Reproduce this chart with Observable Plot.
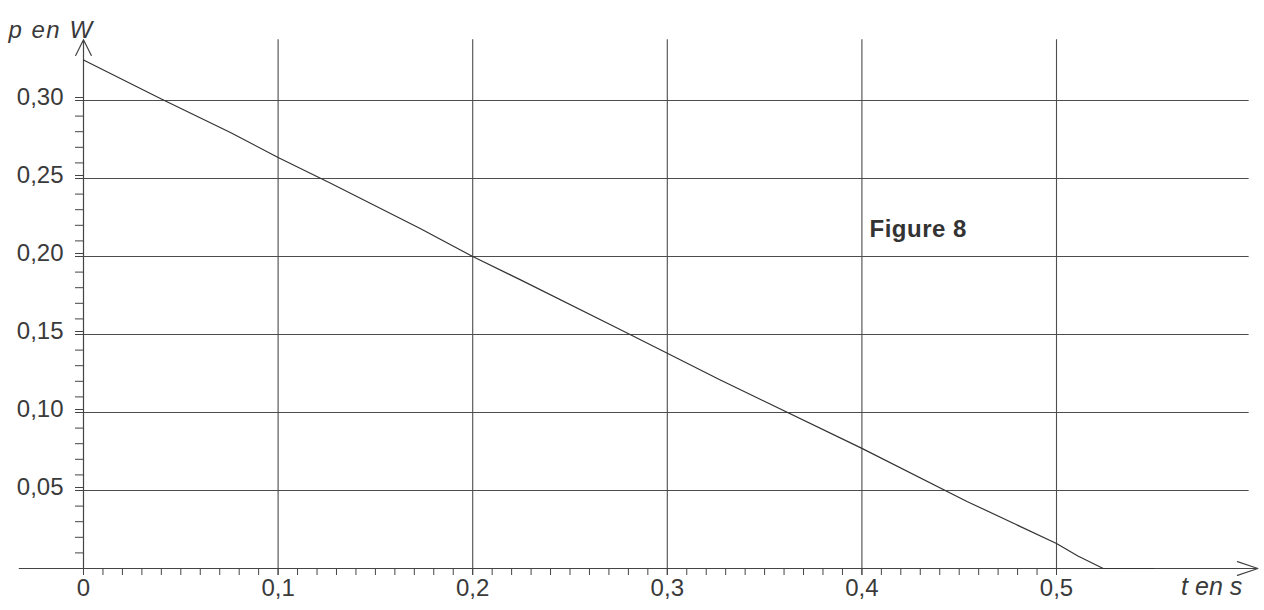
<!DOCTYPE html>
<html><head><meta charset="utf-8">
<script src="https://cdn.jsdelivr.net/npm/d3@7"></script>
<script src="https://cdn.jsdelivr.net/npm/@observablehq/plot@0.6"></script>
<style>html,body{margin:0;padding:0;background:#fff;} svg{display:block}</style>
</head><body><div id="chart"></div>
<script>
// Data
const tValues = [0, 0.04, 0.0755, 0.1, 0.127, 0.173, 0.2, 0.2246, 0.276, 0.3, 0.327, 0.4, 0.454, 0.5, 0.511, 0.524, 0.55];
const pValues = [0.326, 0.301, 0.2795, 0.2635, 0.247, 0.218, 0.200, 0.185, 0.153, 0.138, 0.121, 0.077, 0.043, 0.016, 0.008, 0, 0];
const xTickValues = [0, 0.1, 0.2, 0.3, 0.4, 0.5];
const xTickLabels = ["0", "0,1", "0,2", "0,3", "0,4", "0,5"];
const yTickValues = [0.05, 0.10, 0.15, 0.20, 0.25, 0.30];
const yTickLabels = ["0,05", "0,10", "0,15", "0,20", "0,25", "0,30"];
const xMinorTicks = d3.range(0, 51).map(i => i / 100);
const yMinorTicks = d3.range(1, 31).map(i => i / 100);
const xAxisTitle = "t en s";
const yAxisTitle = "p en W";
const figureLabel = "Figure 8";

const curve = tValues.map((t, i) => ({t, p: pValues[i]}));
const ink = "#3a3a3a";

const chart = Plot.plot({
  width: 1264, height: 610,
  marginLeft: 83, marginRight: 13.4, marginTop: 22, marginBottom: 42,
  x: {domain: [0, 0.6]},
  y: {domain: [0, 0.35]},
  style: {fontFamily: "'Liberation Sans', Arial, sans-serif", background: "#fff", color: ink},
  marks: [
    Plot.ruleY(yTickValues, {x1: 0, x2: 0.599, stroke: "#4d4d4d", strokeWidth: 1.1}),
    Plot.ruleX(xTickValues.slice(1), {y1: 0, y2: 0.339, stroke: "#4d4d4d", strokeWidth: 1.1}),
    Plot.arrow([0], {x1: 0, y1: 0, x2: 0, y2: 0.339, stroke: "#444", strokeWidth: 1.2, headAngle: 53, headLength: 22}),
    Plot.arrow([0], {x1: -0.033, y1: 0, x2: 0.6035, y2: 0, stroke: "#444", strokeWidth: 1.2, headAngle: 37, headLength: 27}),
    Plot.axisY(yMinorTicks, {tickSize: 8, tickFormat: () => "", label: null, stroke: "#444"}),
    Plot.axisY(yTickValues, {tickSize: 8, tickPadding: 12, tickFormat: d => yTickLabels[yTickValues.indexOf(d)], fontSize: 24, fill: ink, stroke: "#444", dy: -3, label: null}),
    Plot.axisX(xMinorTicks, {tickSize: 7, tickFormat: () => "", label: null, stroke: "#444"}),
    Plot.axisX(xTickValues, {tickSize: 7, tickPadding: 3, tickFormat: d => xTickLabels[xTickValues.indexOf(d)], fontSize: 24, fill: ink, stroke: "#444", label: null}),
    Plot.line(curve, {x: "t", y: "p", stroke: "#333", strokeWidth: 1.2}),
    Plot.text([yAxisTitle], {frameAnchor: "top-left", textAnchor: "start", dx: -75, dy: -2, fontSize: 24, fontStyle: "italic", fill: ink}),
    Plot.text([xAxisTitle], {frameAnchor: "bottom-right", textAnchor: "start", dx: -70, dy: 26, fontSize: 25, fontStyle: "italic", fill: ink}),
    Plot.text([figureLabel], {frameAnchor: "top-left", textAnchor: "start", dx: 786, dy: 197, fontSize: 24, fontWeight: "bold", fill: "#333"})
  ]
});
document.getElementById("chart").appendChild(chart);
d3.select(chart).selectAll("text").filter(function(){ return this.textContent === yAxisTitle; }).attr("letter-spacing", "1.5px");
d3.select(chart).selectAll("text").filter(function(){ return this.textContent === figureLabel; }).attr("letter-spacing", "0.5px");
</script>
</body></html>
